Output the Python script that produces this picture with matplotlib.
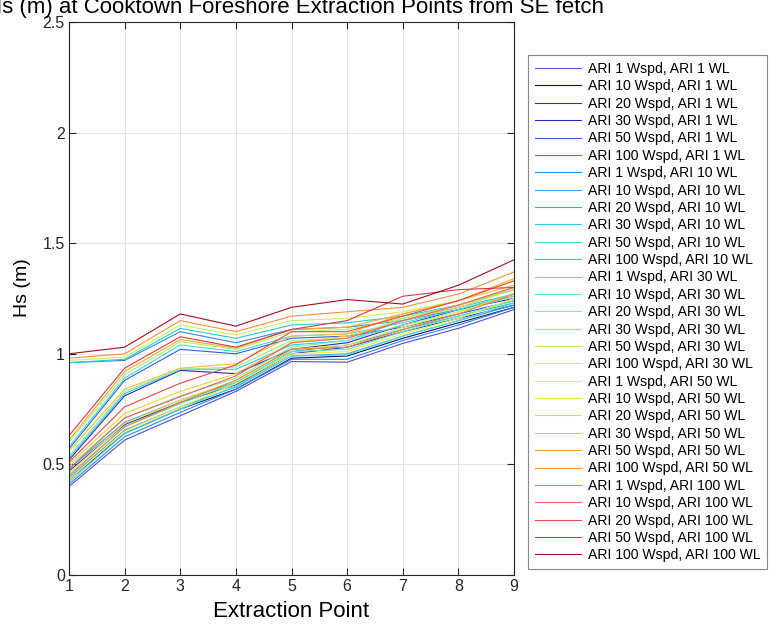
import matplotlib
matplotlib.use('Agg')
import matplotlib.pyplot as plt
import numpy as np

plt.rcParams['font.family'] = ['Liberation Sans', 'DejaVu Sans']

points = [1, 2, 3, 4, 5, 6, 7, 8, 9]

# Hs (m) per water level ARI; rows follow the wind speed ARIs listed for that level
wspd_wl1 = [1, 10, 20, 30, 50, 100]
hs_wl1 = [
    [0.40, 0.61, 0.72, 0.83, 0.965, 0.962, 1.047, 1.115, 1.20],
    [0.43, 0.64, 0.75, 0.84, 0.98, 0.99, 1.07, 1.14, 1.21],
    [0.47, 0.68, 0.78, 0.86, 1.00, 1.03, 1.10, 1.16, 1.22],
    [0.52, 0.81, 0.925, 0.91, 1.02, 1.05, 1.13, 1.20, 1.25],
    [0.57, 0.88, 1.02, 1.00, 1.07, 1.08, 1.12, 1.18, 1.24],
    [0.96, 0.97, 1.10, 1.05, 1.11, 1.12, 1.15, 1.20, 1.26],
]

wspd_wl10 = [1, 10, 20, 30, 50, 100]
hs_wl10 = [
    [0.41, 0.625, 0.735, 0.84, 0.975, 0.975, 1.06, 1.13, 1.21],
    [0.44, 0.655, 0.76, 0.85, 0.99, 1.00, 1.08, 1.15, 1.22],
    [0.48, 0.69, 0.79, 0.87, 1.01, 1.04, 1.11, 1.17, 1.23],
    [0.53, 0.82, 0.93, 0.93, 1.04, 1.06, 1.15, 1.21, 1.27],
    [0.58, 0.89, 1.04, 1.01, 1.08, 1.09, 1.14, 1.20, 1.27],
    [0.96, 0.975, 1.115, 1.07, 1.13, 1.14, 1.17, 1.22, 1.29],
]

wspd_wl30 = [1, 10, 20, 30, 50, 100]
hs_wl30 = [
    [0.42, 0.64, 0.75, 0.855, 0.99, 0.995, 1.08, 1.15, 1.23],
    [0.45, 0.67, 0.775, 0.87, 1.01, 1.02, 1.10, 1.17, 1.24],
    [0.49, 0.71, 0.81, 0.89, 1.03, 1.06, 1.13, 1.19, 1.26],
    [0.54, 0.83, 0.93, 0.94, 1.06, 1.07, 1.16, 1.22, 1.29],
    [0.60, 0.905, 1.055, 1.02, 1.10, 1.11, 1.16, 1.22, 1.30],
    [0.97, 0.985, 1.13, 1.085, 1.15, 1.16, 1.19, 1.24, 1.33],
]

wspd_wl50 = [1, 10, 20, 30, 50, 100]
hs_wl50 = [
    [0.43, 0.65, 0.76, 0.865, 1.00, 1.01, 1.09, 1.16, 1.25],
    [0.46, 0.685, 0.79, 0.88, 1.02, 1.04, 1.12, 1.19, 1.27],
    [0.50, 0.73, 0.83, 0.91, 1.05, 1.08, 1.15, 1.21, 1.29],
    [0.56, 0.84, 0.935, 0.955, 1.08, 1.09, 1.18, 1.24, 1.31],
    [0.61, 0.92, 1.065, 1.025, 1.11, 1.12, 1.18, 1.24, 1.34],
    [0.98, 1.00, 1.15, 1.10, 1.17, 1.19, 1.21, 1.27, 1.37],
]

wspd_wl100 = [1, 10, 20, 50, 100]
hs_wl100 = [
    [0.45, 0.67, 0.78, 0.88, 1.02, 1.03, 1.11, 1.18, 1.27],
    [0.48, 0.71, 0.806, 0.90, 1.05, 1.07, 1.15, 1.22, 1.30],
    [0.51, 0.76, 0.867, 0.95, 1.10, 1.10, 1.17, 1.24, 1.33],
    [0.63, 0.935, 1.077, 1.03, 1.11, 1.15, 1.26, 1.29, 1.30],
    [1.00, 1.03, 1.18, 1.125, 1.21, 1.245, 1.225, 1.31, 1.425],
]

wl_groups = [(1, wspd_wl1, hs_wl1), (10, wspd_wl10, hs_wl10), (30, wspd_wl30, hs_wl30),
             (50, wspd_wl50, hs_wl50), (100, wspd_wl100, hs_wl100)]

line_colors = [
    '#5050d0', '#101070', '#3030b0', '#2828c8', '#3060e0', '#4080e8',
    '#3088f0', '#40a0f0', '#20b0f0', '#30c8f0', '#40d8e0', '#20d0d0',
    '#50e0d0', '#60e8b0', '#80f0a0', '#90f090', '#b0f070', '#d0f060',
    '#f0f040', '#f0e040', '#f0d040', '#f8c030', '#f8a830', '#f89040',
    '#f08040', '#f06060', '#e84848', '#d83848', '#a01020',
]

fig = plt.figure(figsize=(7.71, 6.24), dpi=100)
ax = fig.add_axes([69 / 771, 1 - 575 / 624, 445 / 771, 553 / 624])

k = 0
for wl, wspds, rows in wl_groups:
    for ws, hs in zip(wspds, rows):
        ax.plot(points, hs, color=line_colors[k], lw=0.8,
                label=f'ARI {ws} Wspd, ARI {wl} WL')
        k += 1

ax.set_xlim(1, 9)
ax.set_ylim(0, 2.5)
ax.set_xticks(points)
ax.set_yticks([0, 0.5, 1, 1.5, 2, 2.5])
ax.set_yticklabels(['0', '0.5', '1', '1.5', '2', '2.5'])
ax.grid(True, color='#e4e4e4', lw=0.8)
ax.set_axisbelow(True)
ax.tick_params(direction='in', top=True, right=True, length=5, width=0.8,
               labelsize=11.5, colors='#262626', pad=3)
for s in ax.spines.values():
    s.set_color('#262626')
    s.set_linewidth(0.8)

ax.set_xlabel('Extraction Point', fontsize=16)
ax.xaxis.set_label_coords(0.5, -0.047)
ax.set_ylabel('Hs (m)', fontsize=14)
ax.yaxis.set_label_coords(-0.085, 0.52)

fig.text(-14 / 771, 1 - 13 / 624, 'Hs (m) at Cooktown Foreshore Extraction Points from SE fetch',
         fontsize=16, ha='left', va='baseline')

leg = ax.legend(loc='upper left', bbox_to_anchor=(528 / 771, 1 - 55 / 624),
                bbox_transform=fig.transFigure, borderaxespad=0, fontsize=10.1,
                handlelength=3.3, handletextpad=0.45, labelspacing=0.24, borderpad=0.5,
                fancybox=False, framealpha=1, edgecolor='#888888')
leg.get_frame().set_linewidth(0.8)

fig.savefig('out.png', dpi=100)
